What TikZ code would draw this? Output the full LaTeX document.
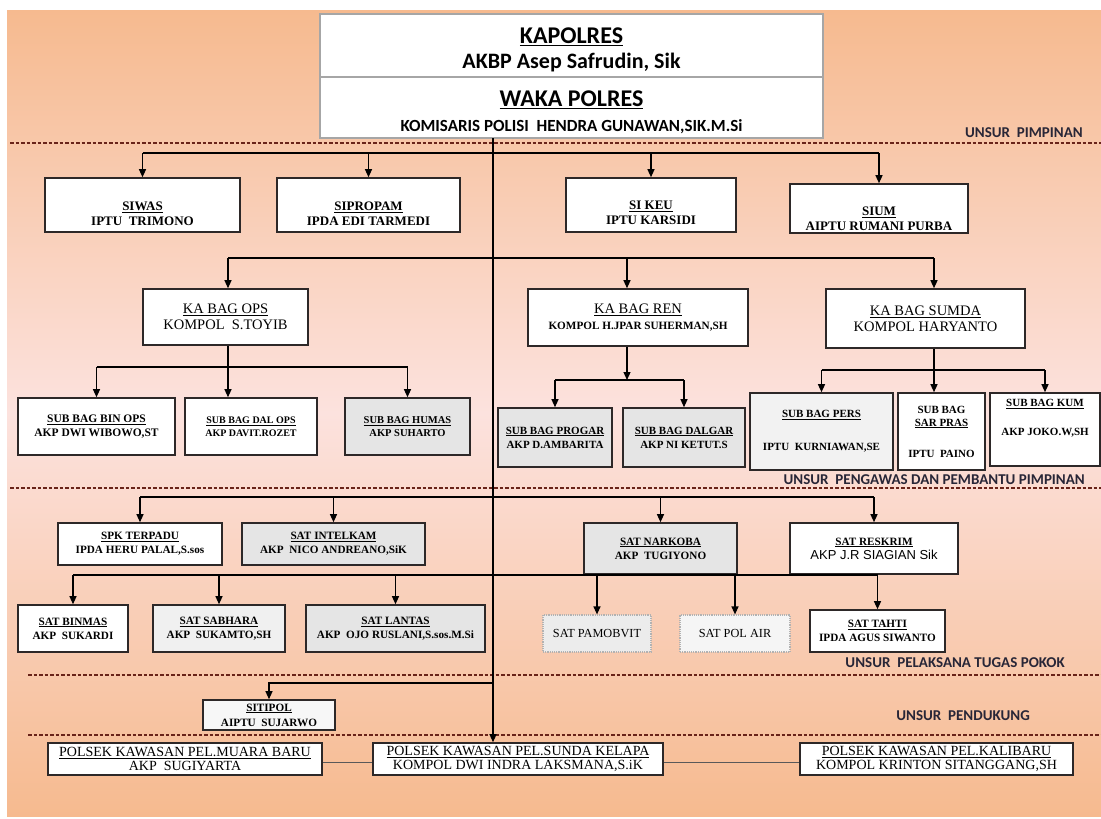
\documentclass[tikz,border=0pt]{standalone}
\usepackage{fontspec}
\setmainfont{Liberation Serif}
\setsansfont{Liberation Sans}
\newfontfamily\calfont{Carlito}
\usepackage{xcolor}
\definecolor{peach}{RGB}{246,186,143}
\definecolor{blush}{RGB}{252,226,222}
\definecolor{maroon}{RGB}{105,35,25}
\definecolor{boxline}{RGB}{45,40,40}
\definecolor{unsurink}{RGB}{40,38,55}
\usetikzlibrary{positioning}
\usetikzlibrary{arrows.meta}
\newcommand{\ul}[1]{\underline{#1}}
\newcommand{\lift}[1]{\rule{0pt}{#1}}
\newcommand{\sink}[1]{\rule[-#1]{0pt}{0pt}}

\begin{document}
\begin{tikzpicture}[x=1pt,y=-1pt,
  unit/.style={draw=boxline,line width=1.6pt,fill=white,align=center,inner sep=1pt,
    font=\fontsize{11.2}{14}\selectfont\bfseries},
  greyunit/.style={unit,fill=gray!20},
  stafunit/.style={unit,font=\fontsize{13}{15}\selectfont\bfseries},
  bagunit/.style={unit,font=\fontsize{14.5}{16}\selectfont},
  subunit/.style={unit,font=\fontsize{11}{14}\selectfont\bfseries},
  dotunit/.style={unit,draw=gray!60,line width=1.2pt,densely dotted,fill=gray!8,
    font=\fontsize{12.3}{14}\selectfont},
  polsekunit/.style={unit,inner sep=0pt,font=\fontsize{14}{14.5}\selectfont},
  headbox/.style={draw=gray!70,line width=1.4pt,fill=white,align=center,minimum width=503pt,
    font=\calfont\bfseries\fontsize{22}{25}\selectfont},
  arr/.style={-{Triangle[length=8pt,width=7pt]},line width=1.2pt},
  link/.style={line width=1.2pt},
  sepline/.style={maroon,line width=1.8pt,dash pattern=on 3.5pt off 2pt},
  unsur/.style={anchor=east,inner sep=0pt,text=unsurink,font=\calfont\bfseries\fontsize{15}{16}\selectfont}
]
\useasboundingbox (0,0) rectangle (1101,819);
\shade[top color=peach,bottom color=peach,middle color=blush] (7,10) rectangle (1101,816);

% pimpinan
\node (kapolres) at (571.5,45.5) [headbox,minimum height=63pt]
  {{\fontsize{24}{25}\selectfont\lift{25pt}\ul{KAPOLRES}}\\AKBP Asep Safrudin, Sik};
\node (waka) at (571.5,107.5) [headbox,minimum height=61pt]
  {{\fontsize{24}{25}\selectfont\lift{25pt}\ul{WAKA POLRES}}\\{\fontsize{17}{20}\selectfont KOMISARIS POLISI\ \ HENDRA GUNAWAN,SIK.M.Si}};

% separators
\draw[sepline] (10,143) -- (1101,143);
\draw[sepline] (10,488) -- (1101,488);
\draw[sepline] (28,675) -- (1101,675);
\draw[sepline] (28,735) -- (1101,735);
\node[unsur] (u1) at (1083,133) {UNSUR\ \ PIMPINAN};
\node[unsur] (u2) at (1085,480) {UNSUR\ \ PENGAWAS DAN PEMBANTU PIMPINAN};
\node[unsur] (u3) at (1065,663) {UNSUR\ \ PELAKSANA TUGAS POKOK};
\node[unsur] (u4) at (1030,716) {UNSUR\ \ PENDUKUNG};

% staf
\node (siwas) at (142.5,205) [stafunit,minimum width=195pt,minimum height=54pt] {\lift{26pt}\ul{SIWAS}\\IPTU\ \ TRIMONO};
\node (sipropam) at (368.5,205) [stafunit,minimum width=183pt,minimum height=54pt] {\lift{26pt}\ul{SIPROPAM}\\IPDA EDI TARMEDI};
\node (sikeu) at (651,205) [stafunit,minimum width=170pt,minimum height=54pt] {\lift{24pt}\ul{SI KEU}\\IPTU KARSIDI};
\node (sium) at (879,208.5) [stafunit,minimum width=178pt,minimum height=49pt] {\lift{29pt}\ul{SIUM}\\AIPTU RUMANI PURBA};

% kabag
\node (kabagops) at (225.5,317) [bagunit,minimum width=165pt,minimum height=56pt] {\ul{KA BAG OPS}\\KOMPOL\ \ S.TOYIB};
\node (kabagren) at (638,317.5) [bagunit,minimum width=220pt,minimum height=57pt] {\ul{KA BAG REN}\\{\bfseries\fontsize{11.2}{14}\selectfont KOMPOL H.JPAR SUHERMAN,SH}};
\node (kabagsumda) at (925.5,318.5) [bagunit,minimum width=199pt,minimum height=59pt] {\ul{KA BAG SUMDA}\\KOMPOL HARYANTO};

% subbag
\node (binops) at (96.5,426.5) [subunit,font=\fontsize{11.5}{14}\selectfont\bfseries,minimum width=157pt,minimum height=57pt] {\ul{SUB BAG BIN OPS}\\AKP DWI WIBOWO,ST};
\node (dalops) at (251,426.5) [subunit,font=\fontsize{10}{13}\selectfont\bfseries,minimum width=132pt,minimum height=57pt] {\ul{SUB BAG DAL OPS}\\AKP DAVIT.ROZET};
\node (humas) at (407.5,426.5) [subunit,fill=gray!20,font=\fontsize{10.5}{13}\selectfont\bfseries,minimum width=125pt,minimum height=57pt] {\ul{SUB BAG HUMAS}\\AKP SUHARTO};
\node (progar) at (555,437.5) [subunit,fill=gray!20,minimum width=114pt,minimum height=59pt] {\ul{SUB BAG PROGAR}\\AKP D.AMBARITA};
\node (dalgar) at (684,437.5) [subunit,fill=gray!20,minimum width=122pt,minimum height=59pt] {\ul{SUB BAG DALGAR}\\AKP NI KETUT.S};
\node (pers) at (821.5,431.5) [subunit,fill=gray!10,minimum width=143pt,minimum height=77pt] {\ul{SUB BAG PERS}\\[19pt]IPTU\ \ KURNIAWAN,SE};
\node (sarpras) at (941.5,431.5) [subunit,font=\fontsize{11}{13}\selectfont\bfseries,minimum width=87pt,minimum height=77pt] {SUB BAG\\\ul{SAR PRAS}\\[18pt]IPTU\ \ PAINO};
\node (kum) at (1045,429.5) [subunit,minimum width=110pt,minimum height=73pt] {\ul{SUB BAG KUM}\\[15pt]AKP JOKO.W,SH\sink{24pt}};

% satuan
\node (spk) at (140,544) [unit,minimum width=164pt,minimum height=42pt] {\ul{SPK TERPADU}\\IPDA HERU PALAL,S.sos};
\node (intelkam) at (333.5,544) [greyunit,minimum width=183pt,minimum height=42pt] {\ul{SAT INTELKAM}\\AKP\ \ NICO ANDREANO,SiK};
\node (narkoba) at (660.5,548.5) [greyunit,minimum width=153pt,minimum height=51pt] {\ul{SAT NARKOBA}\\AKP\ \ TUGIYONO};
\node (reskrim) at (874,548.5) [unit,minimum width=168pt,minimum height=51pt] {\ul{SAT RESKRIM}\\{\sffamily\mdseries\fontsize{13}{15}\selectfont AKP J.R SIAGIAN Sik}};
\node (binmas) at (73,628.5) [unit,minimum width=110pt,minimum height=47pt] {\ul{SAT BINMAS}\\AKP\ \ SUKARDI};
\node (sabhara) at (219,628.5) [greyunit,fill=gray!12,minimum width=132pt,minimum height=47pt] {\ul{SAT SABHARA}\\AKP\ \ SUKAMTO,SH};
\node (lantas) at (395.5,628.5) [greyunit,minimum width=179pt,minimum height=47pt] {\ul{SAT LANTAS}\\AKP\ \ OJO RUSLANI,S.sos.M.Si};
\node (pamobvit) at (597,633.5) [dotunit,fill=gray!15,minimum width=108pt,minimum height=37pt] {SAT PAMOBVIT};
\node (polair) at (735,633.5) [dotunit,minimum width=110pt,minimum height=37pt] {SAT POL AIR};
\node (tahti) at (877.5,631) [unit,minimum width=135pt,minimum height=42pt] {\ul{SAT TAHTI}\\IPDA AGUS SIWANTO};

% pendukung, polsek
\node (sitipol) at (269,715) [unit,fill=gray!6,minimum width=132pt,minimum height=30pt,inner sep=0pt,font=\fontsize{11.2}{15}\selectfont\bfseries] {\ul{SITIPOL}\\AIPTU\ \ SUJARWO};
\node (muara) at (185,759) [polsekunit,minimum width=274pt,minimum height=32pt] {\ul{POLSEK KAWASAN PEL.MUARA BARU}\\AKP\ \ SUGIYARTA};
\node (sunda) at (518,759) [polsekunit,minimum width=290pt,minimum height=32pt] {\ul{POLSEK KAWASAN PEL.SUNDA KELAPA}\\KOMPOL DWI INDRA LAKSMANA,S.iK};
\node (kalibaru) at (936.5,759) [polsekunit,minimum width=273pt,minimum height=32pt] {\ul{POLSEK KAWASAN PEL.KALIBARU}\\KOMPOL KRINTON SITANGGANG,SH};

% garis komando
\coordinate (j0) at (493,138);
\coordinate (j1) at (493,153);
\coordinate (j2) at (493,258);
\coordinate (j3) at (493,497);
\coordinate (j4) at (493,575);
\coordinate (j5) at (493,683);
\coordinate (ob) at (228,367);
\coordinate (rb) at (627,380);
\coordinate (sb) at (934,370);
\draw[arr] (j0) -- (j0 |- sunda.north);
\draw[link] (j1 -| siwas) -- (j1 -| sium);
\foreach \n in {siwas,sipropam,sikeu,sium}
  \draw[arr] (j1 -| \n) -- (\n.north);
\draw[link] (j2 -| ob) -- (j2 -| sb);
\draw[arr] (j2 -| ob) -- (ob |- kabagops.north);
\draw[arr] (j2 -| rb) -- (rb |- kabagren.north);
\draw[arr] (j2 -| sb) -- (sb |- kabagsumda.north);

\draw[link] (kabagops.south -| ob) -- (ob);
\draw[link] (ob -| binops) -- (ob -| humas);
\draw[arr] (ob -| binops) -- (binops.north);
\draw[arr] (ob) -- (ob |- dalops.north);
\draw[arr] (ob -| humas) -- (humas.north);

\draw[arr] (kabagren.south -| rb) -- (rb);
\draw[link] (rb -| progar) -- (rb -| dalgar);
\foreach \n in {progar,dalgar}
  \draw[arr] (rb -| \n) -- (\n.north);

\draw[link] (kabagsumda.south -| sb) -- (sb);
\draw[link] (sb -| pers) -- (sb -| kum);
\draw[arr] (sb -| pers) -- (pers.north);
\draw[arr] (sb) -- (sb |- sarpras.north);
\draw[arr] (sb -| kum) -- (kum.north);

\draw[link] (j3 -| spk) -- (j3 -| reskrim);
\foreach \n in {spk,intelkam,narkoba,reskrim}
  \draw[arr] (j3 -| \n) -- (\n.north);
\draw[link] (j4 -| binmas) -- (j4 -| tahti);
\foreach \n in {binmas,sabhara,lantas,pamobvit,polair,tahti}
  \draw[arr] (j4 -| \n) -- (\n.north);
\draw[arr] (j5) -| (sitipol.north);

\draw[gray!70!black,line width=1pt] ([yshift=-3pt]muara.east) -- ([yshift=-3pt]sunda.west);
\draw[gray!70!black,line width=1pt] ([yshift=-3pt]sunda.east) -- ([yshift=-3pt]kalibaru.west);
\end{tikzpicture}
\end{document}
